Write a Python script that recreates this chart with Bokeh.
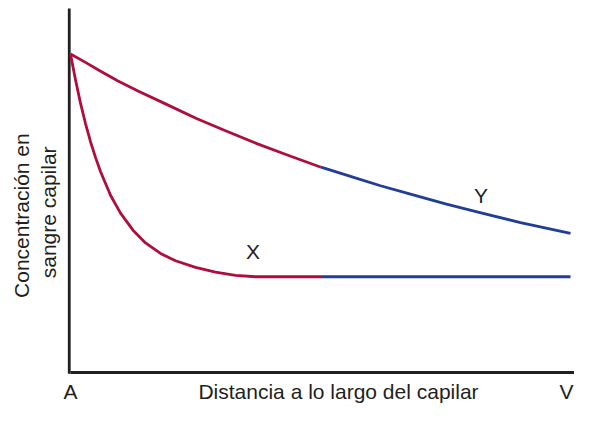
import math
from bokeh.plotting import figure
from bokeh.models import Label, Range1d
from bokeh.embed import file_html
from bokeh.resources import INLINE

# Distance along the capillary (0 = arterial end A, 100 = venous end V)
# Concentration in capillary blood (arbitrary units, 0..100)

# Substance X: rapid exchange, equilibrates early
x_red_dist = [0, 0.5, 1, 2, 3, 4, 5, 6, 8, 10, 12.5, 15, 18, 21, 25, 29, 33, 37, 44, 50.1]
x_red_conc = [87.5, 83.9, 80.4, 74.0, 68.4, 63.4, 59.1, 55.2, 48.7, 43.8, 39.1, 35.6, 32.7, 30.7, 28.9, 27.6, 26.7, 26.3, 26.3, 26.3]
x_blue_dist = [50.1, 100]
x_blue_conc = [26.3, 26.3]

# Substance Y: slow exchange
y_red_dist = [0, 3, 5.85, 9.5, 13.6, 19, 25.3, 31, 37.4, 43.5, 50.1]
y_red_conc = [87.5, 85.2, 82.9, 80.1, 77.3, 73.8, 69.7, 66.4, 62.8, 59.7, 56.4]
y_blue_dist = [50.1, 56, 62, 68, 75, 81.9, 90, 100]
y_blue_conc = [56.4, 53.9, 51.3, 49.0, 46.3, 43.9, 41.2, 38.2]

tick_labels = ["A", "V"]
tick_positions = [0, 100]
curve_labels = ["X", "Y"]
x_title = "Distancia a lo largo del capilar"
y_title_lines = ["Concentración en", "sangre capilar"]

RED = "#B10D3C"
BLUE = "#213E96"
INK = "#231F20"
FONT = "Liberation Sans"

W, H = 574, 405
# frame = whole canvas; data 0..100 mapped to px 70..570 and py 372..8
p = figure(width=W, height=H, output_backend="svg", toolbar_location=None,
           x_range=Range1d(-14, 100.8), y_range=Range1d(-9.07, 102.2),
           min_border=0)
p.outline_line_color = None
p.grid.visible = False
p.axis.visible = False
p.background_fill_color = "white"
p.border_fill_color = "white"

# axis lines
p.segment(x0=[0, -0.25], y0=[0, -0.35], x1=[100.8, -0.25], y1=[0, 100],
          line_color=INK, line_width=2.8)

lw = 2.8
p.line(x_red_dist, x_red_conc, line_color=RED, line_width=lw, line_join="round")
p.line(x_blue_dist, x_blue_conc, line_color=BLUE, line_width=lw)
p.line(y_red_dist, y_red_conc, line_color=RED, line_width=lw, line_join="round")
p.line(y_blue_dist, y_blue_conc, line_color=BLUE, line_width=lw, line_join="round")

def lab(x, y, t, align="center", baseline="alphabetic", angle=0):
    p.add_layout(Label(x=x, y=y, text=t, text_font=FONT, text_font_size="21px",
                       text_color=INK, text_align=align, text_baseline=baseline,
                       angle=angle))

lab(36.5, 33.3, curve_labels[0])
lab(82.1, 48.5, curve_labels[1])
lab(tick_positions[0], -5.25, tick_labels[0])
lab(tick_positions[1] - 0.8, -5.25, tick_labels[1])
lab(53.6, -5.25, x_title)
lab(-9.74, 43.1, y_title_lines[0], angle=math.pi / 2)
lab(-4.48, 44.0, y_title_lines[1], angle=math.pi / 2)

open("out.html", "w").write(file_html(p, INLINE))
